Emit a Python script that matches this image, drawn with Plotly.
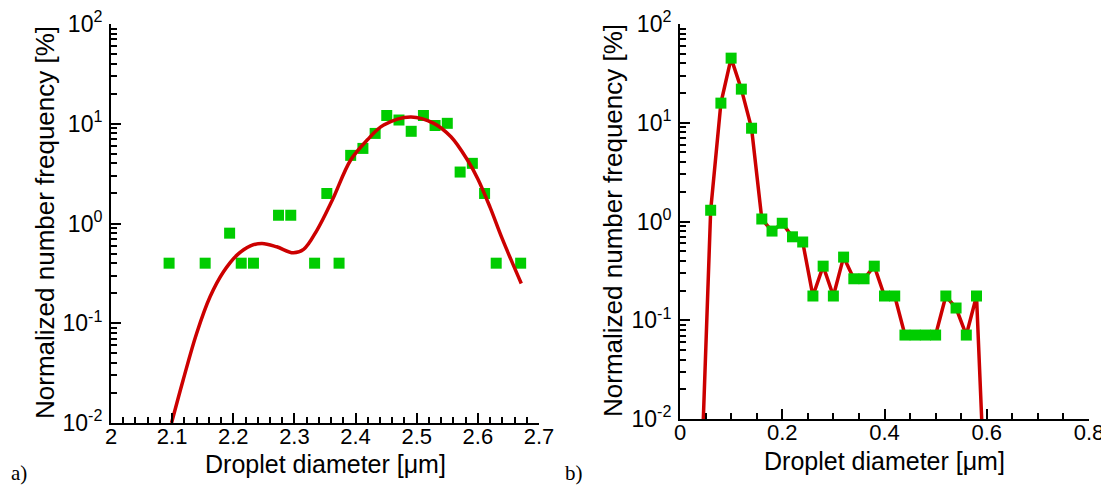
import plotly.graph_objects as go

# ---- data: panel a) ----
a_bin_x = [2.095, 2.154, 2.194, 2.213, 2.233, 2.274, 2.294, 2.333, 2.353, 2.373,
           2.392, 2.412, 2.432, 2.451, 2.471, 2.491, 2.511, 2.530, 2.550, 2.571,
           2.591, 2.611, 2.630, 2.670]
a_bin_y = [0.40, 0.40, 0.80, 0.40, 0.40, 1.21, 1.21, 0.40, 2.0, 0.40,
           4.82, 5.66, 8.0, 12.1, 10.9, 8.4, 12.1, 9.6, 10.1, 3.28,
           4.01, 2.0, 0.40, 0.40]
a_fit_x = [2.099, 2.118, 2.140, 2.162, 2.184, 2.206, 2.228, 2.247, 2.271, 2.298,
           2.315, 2.337, 2.362, 2.392, 2.419, 2.446, 2.490, 2.528, 2.556, 2.583,
           2.600, 2.620, 2.640, 2.671]
a_fit_y = [0.010, 0.027, 0.079, 0.184, 0.328, 0.482, 0.597, 0.631, 0.584, 0.508,
           0.55, 0.859, 1.72, 4.33, 6.87, 9.7, 11.7, 10.1, 7.4, 4.33,
           2.8, 1.45, 0.70, 0.25]

# ---- data: panel b) ----
b_bin_x = [0.06, 0.08, 0.10, 0.12, 0.14, 0.16, 0.18, 0.20, 0.22, 0.24,
           0.26, 0.28, 0.30, 0.32, 0.34, 0.36, 0.38, 0.40, 0.42, 0.44,
           0.46, 0.48, 0.50, 0.52, 0.54, 0.56, 0.58]
b_bin_y = [1.30, 15.8, 45.1, 21.9, 8.8, 1.06, 0.80, 0.96, 0.70, 0.62,
           0.176, 0.353, 0.176, 0.436, 0.263, 0.263, 0.353, 0.176, 0.176, 0.0708,
           0.0708, 0.0708, 0.0708, 0.176, 0.133, 0.0708, 0.176]
b_edge_x = [0.04, 0.60]
b_edge_y = [0.0015, 0.0006]

x_title = "Droplet diameter [μm]"
y_title = "Normalized number frequency [%]"
y_tickvals = [0.01, 0.1, 1, 10, 100]
y_ticktext = ["10<sup>-2</sup>", "10<sup>-1</sup>", "10<sup>0</sup>", "10<sup>1</sup>", "10<sup>2</sup>"]
y_minor = [m * 10.0 ** e for e in range(-2, 2) for m in range(2, 10)]

GREEN = "rgb(0,204,0)"
RED = "rgb(204,0,0)"
OFF = 8                      # page body margin
W, H = 1109 - OFF, 486 - OFF
FONT = "Liberation Sans, Arial, Helvetica, sans-serif"

fig = go.Figure()
# panel a: markers under fitted curve
fig.add_trace(go.Scatter(x=a_bin_x, y=a_bin_y, mode="markers",
                         marker=dict(symbol="square", size=11, color=GREEN),
                         xaxis="x", yaxis="y", showlegend=False))
fig.add_trace(go.Scatter(x=a_fit_x, y=a_fit_y, mode="lines",
                         line=dict(color=RED, width=3.5, shape="spline", smoothing=1.0),
                         xaxis="x", yaxis="y", showlegend=False))
# panel b: line under markers
b_line_x = [b_edge_x[0]] + b_bin_x + [b_edge_x[1]]
b_line_y = [b_edge_y[0]] + b_bin_y + [b_edge_y[1]]
fig.add_trace(go.Scatter(x=b_line_x, y=b_line_y, mode="lines",
                         line=dict(color=RED, width=3.5),
                         xaxis="x2", yaxis="y2", showlegend=False))
fig.add_trace(go.Scatter(x=b_bin_x, y=b_bin_y, mode="markers",
                         marker=dict(symbol="square", size=11, color=GREEN),
                         xaxis="x2", yaxis="y2", showlegend=False))


def px_x(p):
    return (p - OFF) / W


def px_y(p):
    return 1 - (p - OFF) / H


def x_axis(domain, rng, dtick, minor_dtick, anchor):
    return dict(domain=domain, range=rng, dtick=dtick, tick0=rng[0], anchor=anchor,
                showline=True, linecolor="black", linewidth=2, ticks="inside",
                ticklen=10, tickwidth=2, tickcolor="black", showgrid=False,
                zeroline=False, automargin=False, ticklabelstandoff=-7,
                ticklabeloverflow="allow",
                minor=dict(ticks="inside", dtick=minor_dtick, ticklen=6, tickwidth=1.5,
                           tickcolor="black", showgrid=False),
                tickfont=dict(family=FONT, size=22, color="black"))


def y_axis(domain, anchor):
    return dict(domain=domain, anchor=anchor, type="log", range=[-2, 2],
                showline=True, linecolor="black", linewidth=2,
                ticks="inside", ticklen=10, tickwidth=2, tickcolor="black",
                showgrid=False, zeroline=False, automargin=False, tickmode="array",
                tickvals=y_tickvals, ticktext=y_ticktext, ticklabelstandoff=2,
                ticklabeloverflow="allow",
                minor=dict(ticks="inside", tickmode="array", tickvals=y_minor,
                           ticklen=6, tickwidth=1.5, tickcolor="black", showgrid=False),
                tickfont=dict(family=FONT, size=23, color="black"))


fig.update_layout(
    width=W, height=H,
    margin=dict(l=0, r=0, t=0, b=0, pad=0, autoexpand=False),
    paper_bgcolor="white", plot_bgcolor="white", showlegend=False,
    xaxis=x_axis([px_x(111), px_x(539)], [2, 2.7], 0.1, 0.02, "y"),
    yaxis=y_axis([px_y(423), px_y(24)], "x"),
    xaxis2=x_axis([px_x(680), px_x(1089)], [0, 0.8], 0.2, 0.05, "y2"),
    yaxis2=y_axis([px_y(419), px_y(24)], "x2"),
)

ann = []
# axis titles
for cx, cy in [(325, 464), (884, 461)]:
    ann.append(dict(text=x_title, x=px_x(cx), y=px_y(cy), xref="paper", yref="paper",
                    showarrow=False, xanchor="center", yanchor="middle",
                    font=dict(family=FONT, size=25, color="black")))
for cx, cy in [(45, 223), (613, 221)]:
    ann.append(dict(text=y_title, x=px_x(cx), y=px_y(cy), xref="paper", yref="paper",
                    showarrow=False, xanchor="center", yanchor="middle", textangle=-90,
                    font=dict(family=FONT, size=26, color="black")))
# panel labels
for lbl, cx in [("a)", 9), ("b)", 563)]:
    ann.append(dict(text=lbl, x=px_x(cx), y=px_y(473), xref="paper", yref="paper",
                    showarrow=False, xanchor="left", yanchor="middle",
                    font=dict(family="Liberation Serif, Times New Roman, serif", size=21,
                              color="black")))
fig.update_layout(annotations=ann)

fig.write_html("out.html")
